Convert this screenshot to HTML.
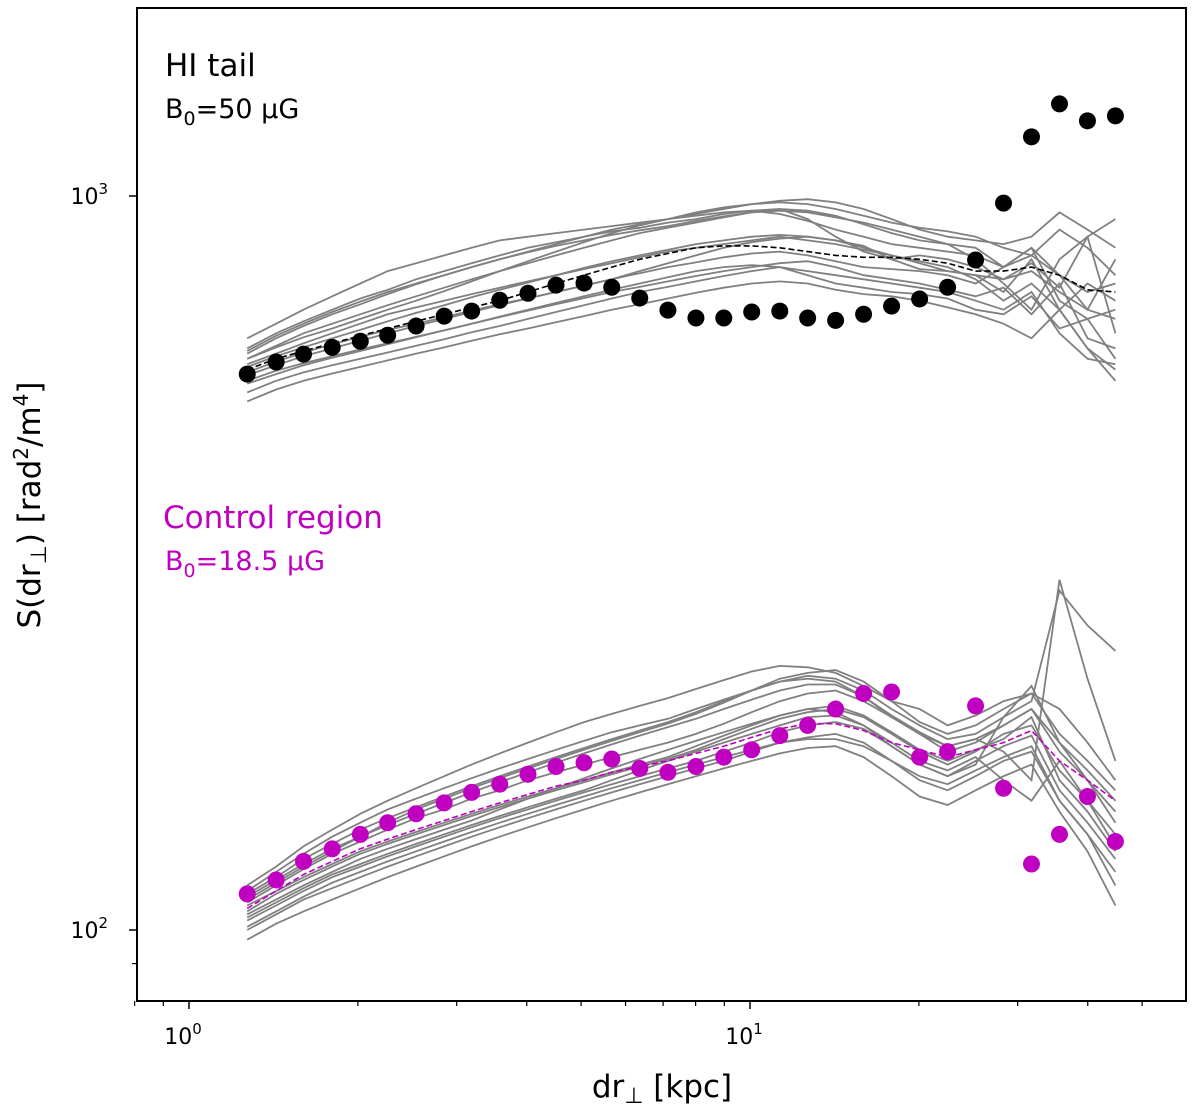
<!DOCTYPE html>
<html><head><meta charset="utf-8"><style>
html,body{margin:0;padding:0;background:#fff;}
svg text{font-family:"DejaVu Sans","Liberation Sans",sans-serif;}
</style></head><body>
<svg id="chart" width="1200" height="1110" viewBox="0 0 1200 1110" xmlns="http://www.w3.org/2000/svg">
<g id="grayU"></g>
<g id="grayL"></g>
<g id="lines"></g>
<g id="dots"></g>
<rect x="137" y="8" width="1049" height="993" fill="none" stroke="#000" stroke-width="2"/>
<g id="ticks"></g>
<text x="165" y="76" font-size="31" fill="#000">HI tail</text>
<text x="165" y="118" font-size="27" fill="#000">B<tspan font-size="19" dy="7">0</tspan><tspan dy="-7">=50 μG</tspan></text>
<text x="163" y="528" font-size="31" fill="#c000c0">Control region</text>
<text x="165" y="570" font-size="27" fill="#c000c0">B<tspan font-size="19" dy="7">0</tspan><tspan dy="-7">=18.5 μG</tspan></text>
<text transform="translate(40,505) rotate(-90)" text-anchor="middle" font-size="31" fill="#000">S(dr<tspan font-size="22" dy="6">⊥</tspan><tspan dy="-6">) [rad</tspan><tspan font-size="20" dy="-12">2</tspan><tspan dy="12">/m</tspan><tspan font-size="20" dy="-12">4</tspan><tspan dy="12">]</tspan></text>
<text x="662" y="1097" text-anchor="middle" font-size="31" fill="#000">dr<tspan font-size="22" dy="6">⊥</tspan><tspan dy="-6"> [kpc]</tspan></text>
</svg>
<script>
const xVals=[1.27,1.43,1.60,1.80,2.02,2.26,2.54,2.85,3.19,3.58,4.02,4.51,5.06,5.67,6.36,7.14,8.01,8.98,10.07,11.30,12.67,14.21,15.94,17.88,20.06,22.50,25.24,28.31,31.75,35.62,39.95,44.81];
const hiObs=[572,594,609,622,634,646,665,686,697,721,737,756,761,751,726,699,682,682,695,697,682,677,690,708,724,751,818,978,1204,1335,1266,1286];
const ctrlObs=[112,117,124,129,135,140,144,149,154,158,163,167,169,171,166,164,167,172,176,184,190,200,210,211,172,175,202,156,123,135,152,132];
const hiMedian=[580,600,615,630,645,660,675,690,705,720,740,760,780,800,820,835,850,855,855,850,840,830,825,825,820,810,790,790,800,780,745,740];
const ctrlMedian=[107,113,119,124,129,133,137,141,145,149,153,157,160,164,167,170,174,178,183,188,191,191,187,180,176,172,176,180,187,170,160,150];
const hiU1=[640,670,700,730,760,790,810,830,850,870,880,890,900,910,920,930,945,960,975,985,990,980,960,930,900,880,870,860,880,950,900,850];
const hiU2=[620,650,675,700,725,745,770,790,810,830,850,865,880,895,905,920,930,945,955,960,955,940,915,890,870,860,850,800,850,780,700,820];
const hiU3=[600,625,650,670,690,710,730,750,770,790,810,830,850,870,890,905,920,935,950,955,950,935,920,900,880,860,820,760,700,820,880,650];
const hiU4=[590,610,630,650,670,690,705,720,735,750,765,780,795,810,825,840,850,860,870,880,870,860,845,830,815,800,770,720,760,700,760,720];
const hiU5=[575,595,612,628,643,657,670,684,698,712,726,740,755,770,785,800,812,825,835,840,830,815,800,795,790,780,760,800,850,720,680,700];
const hiU6=[560,578,592,605,618,630,643,656,670,684,698,712,726,740,752,765,778,790,800,810,815,800,780,770,760,745,730,750,690,760,640,620];
const hiU7=[540,560,575,588,600,612,625,638,652,665,680,695,710,725,740,752,765,778,790,800,780,760,750,740,735,725,700,690,730,660,680,600];
const hiU8=[525,545,560,573,585,597,610,622,635,648,660,673,686,700,712,725,738,750,760,765,760,745,735,730,720,705,690,670,640,700,620,580];
const hiU9=[610,640,665,690,712,735,758,780,800,820,838,855,870,885,898,910,925,938,950,960,930,880,840,820,830,820,800,770,810,750,880,930];
const hiU10=[585,605,622,640,657,675,693,710,728,745,762,780,798,815,830,845,860,870,880,885,880,870,855,820,795,790,780,740,820,700,620,560];
const hiU11=[600,622,642,660,680,700,720,742,765,790,815,840,865,890,912,930,950,965,975,980,975,960,940,920,905,895,880,850,830,900,850,780];
const hiU12=[570,588,605,620,635,650,665,680,695,710,725,740,755,770,790,810,830,850,865,875,880,870,850,830,810,790,780,770,790,740,700,680];
const hiU13=[555,572,588,602,615,628,642,656,670,685,700,715,730,745,760,775,790,800,805,800,790,780,770,760,750,740,720,700,740,650,600,590];
const hiU14=[615,645,670,695,718,740,760,780,800,820,840,860,880,900,915,930,940,950,955,945,925,900,880,860,850,840,830,800,830,780,740,760];
const ctL1=[115,122,130,137,144,150,156,162,168,174,180,186,192,197,202,207,213,219,225,229,228,224,215,205,200,190,196,205,210,185,170,155];
const ctL2=[112,118,125,131,137,142,147,152,157,162,167,172,177,182,187,192,198,205,212,218,222,220,212,200,190,182,185,195,205,290,260,240];
const ctL3=[109,115,121,127,132,137,142,146,151,155,160,164,168,172,176,180,185,191,198,205,210,212,205,195,185,175,180,190,200,180,165,150];
const ctL4=[106,112,117,122,127,131,135,139,143,147,151,155,159,163,167,171,176,182,188,194,198,200,195,185,175,168,175,185,190,165,150,135];
const ctL5=[103,108,113,118,122,126,130,134,138,142,146,150,154,158,162,166,170,175,180,186,190,192,188,178,168,162,170,178,184,155,140,125];
const ctL6=[100,105,110,114,118,122,126,130,134,138,142,146,150,154,158,162,166,170,175,180,183,185,180,170,160,155,162,170,175,150,135,115];
const ctL7=[97,102,106,110,114,118,122,126,130,134,138,142,146,150,154,158,162,166,170,174,177,178,172,162,152,148,155,162,168,145,128,108];
const ctL8=[113,120,127,134,140,146,151,156,161,166,171,176,181,186,190,194,200,206,212,218,220,218,208,195,185,178,182,175,160,300,220,170];
const ctL9=[108,113,118,123,128,132,136,140,144,148,152,156,160,164,168,172,178,184,190,196,200,198,190,178,168,162,168,195,215,180,160,140];
const ctL10=[104,109,114,119,123,127,131,135,139,143,147,151,155,160,165,170,175,180,185,190,195,196,190,180,170,165,172,160,150,170,150,130];
const ctL11=[111,117,123,129,134,139,144,149,154,159,164,169,174,179,184,189,194,200,206,212,216,216,208,196,186,178,182,190,200,175,160,145];
const ctL12=[105,110,115,120,125,129,133,137,141,146,151,156,161,166,171,176,181,186,191,196,200,202,196,186,176,170,176,182,195,160,145,128];
const ctL13=[101,106,111,116,120,124,128,132,136,140,144,148,152,156,160,164,168,172,176,180,182,182,178,170,162,158,165,172,178,150,135,120];
const ctL14=[110,116,122,128,134,140,146,151,156,161,166,171,176,181,186,191,197,204,212,220,224,226,218,205,192,185,190,200,210,200,180,160];
const xTickVals=[1,10];
const xTickLabels=["0","1"];
const xMinorVals=[0.8,0.9,2,3,4,5,6,7,8,9,20,30,40,50];
const yTickVals=[100,1000];
const yTickLabels=["2","3"];
const yMinorVals=[90];

const NS="http://www.w3.org/2000/svg";
const X=v=>189+561*Math.log10(v);
const Y=v=>930-734*(Math.log10(v)-2);
function mk(tag,attrs,parent){const e=document.createElementNS(NS,tag);for(const k in attrs)e.setAttribute(k,attrs[k]);parent.appendChild(e);return e;}
function path(arr){return arr.map((v,i)=>(i?'L':'M')+X(xVals[i]).toFixed(1)+' '+Y(v).toFixed(1)).join(' ');}
const gU=document.getElementById('grayU'),gL=document.getElementById('grayL');
[hiU1,hiU2,hiU3,hiU4,hiU5,hiU6,hiU7,hiU8,hiU9,hiU10,hiU11,hiU12,hiU13,hiU14].forEach(s=>{
 const p=mk('path',{d:path(s),fill:'none',stroke:'#808080','stroke-width':1.8},gU);
 
 
});
[ctL1,ctL2,ctL3,ctL4,ctL5,ctL6,ctL7,ctL8,ctL9,ctL10,ctL11,ctL12,ctL13,ctL14].forEach(s=>{
 const p=mk('path',{d:path(s),fill:'none',stroke:'#808080','stroke-width':1.8},gL);
 
 
});
const gl=document.getElementById('lines');
const m1=mk('path',{d:path(hiMedian),fill:'none',stroke:'#000','stroke-width':1.6,'stroke-dasharray':'6,3'},gl);


const m2=mk('path',{d:path(ctrlMedian),fill:'none',stroke:'#c000c0','stroke-width':1.6,'stroke-dasharray':'6,3'},gl);


const gd=document.getElementById('dots');
hiObs.forEach((v,i)=>{const c=mk('circle',{cx:X(xVals[i]),cy:Y(v),r:8.5,fill:'#000'},gd);
 
 });
ctrlObs.forEach((v,i)=>{const c=mk('circle',{cx:X(xVals[i]),cy:Y(v),r:8.5,fill:'#c000c0'},gd);
 
 });
const gt=document.getElementById('ticks');
xTickVals.forEach((v,i)=>{const x=X(v);
 mk('line',{x1:x,x2:x,y1:1001,y2:1009,stroke:'#000','stroke-width':1.5},gt);
 const t=mk('text',{x:x-6,y:1044,'text-anchor':'middle','font-size':22,fill:'#000'},gt);
 
 
 t.innerHTML='10<tspan font-size="15" dy="-10">'+xTickLabels[i]+'</tspan>';});
xMinorVals.forEach(v=>{const x=X(v);mk('line',{x1:x,x2:x,y1:1001,y2:1006,stroke:'#000','stroke-width':1.2},gt);});
yTickVals.forEach((v,i)=>{const y=Y(v);
 mk('line',{x1:129,x2:137,y1:y,y2:y,stroke:'#000','stroke-width':1.5},gt);
 const t=mk('text',{x:108,y:y+8,'text-anchor':'end','font-size':22,fill:'#000'},gt);
 
 
 t.innerHTML='10<tspan font-size="15" dy="-10">'+yTickLabels[i]+'</tspan>';});
yMinorVals.forEach(v=>{const y=Y(v);mk('line',{x1:132,x2:137,y1:y,y2:y,stroke:'#000','stroke-width':1.2},gt);});
</script>
</body></html>
